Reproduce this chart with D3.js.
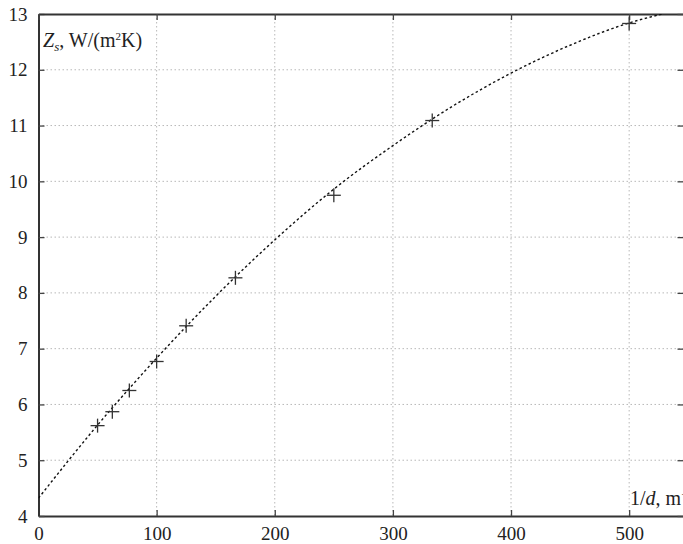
<!DOCTYPE html>
<html>
<head>
<meta charset="utf-8">
<script src="https://cdn.jsdelivr.net/npm/d3@7"></script>
<style>
  body { margin: 0; background: #fff; }
  text { font-family: "Liberation Serif", "DejaVu Serif", serif; fill: #222; }
</style>
</head>
<body>
<div id="chart"></div>
<script>
// measured points: 1/d (1/m) vs Zs (W/(m2K))
var invD = [50, 62.5, 76.9, 100, 125, 166.7, 250, 333.3, 500];
var zs = [5.62, 5.87, 6.25, 6.77, 7.41, 8.27, 9.75, 11.09, 12.83];

// fitted curve
var fitX = [0, 50, 100, 150, 200, 250, 300, 350, 400, 450, 500, 528];
var fitY = [4.32, 5.63, 6.83, 7.94, 8.95, 9.86, 10.64, 11.34, 11.94, 12.44, 12.84, 13.0];

var xTicks = [0, 100, 200, 300, 400, 500];
var yTicks = [4, 5, 6, 7, 8, 9, 10, 11, 12, 13];

var width = 683;
var height = 544;
var pLeft = 38.5, pTop = 14, pBottom = 516, pRight = 683.5;

var xScale = d3.scaleLinear().domain([0, 546]).range([pLeft, pRight]);
var yScale = d3.scaleLinear().domain([4, 13]).range([pBottom, pTop]);

var svg = d3.select("#chart").append("svg")
  .attr("width", width)
  .attr("height", height);

svg.append("defs").append("clipPath").attr("id", "plot")
  .append("rect")
  .attr("x", pLeft).attr("y", pTop)
  .attr("width", pRight - pLeft).attr("height", pBottom - pTop);

// dotted grid
var grid = svg.append("g").attr("class", "grid");

grid.selectAll("line.gx")
  .data(xTicks.filter(d => d > 0)).enter()
  .append("line")
  .attr("class", "gx")
  .attr("x1", d => xScale(d)).attr("x2", d => xScale(d))
  .attr("y1", pTop).attr("y2", pBottom);

grid.selectAll("line.gy")
  .data(yTicks.filter(d => d > 4 && d < 13)).enter()
  .append("line")
  .attr("class", "gy")
  .attr("x1", pLeft).attr("x2", pRight)
  .attr("y1", d => yScale(d)).attr("y2", d => yScale(d));

grid.selectAll("line")
  .style("stroke", "#b8b8b8")
  .style("stroke-width", 1)
  .style("stroke-dasharray", "1.5,2.5");

// axes
var xAxis = d3.axisBottom(xScale).tickValues(xTicks).tickSizeInner(-6).tickSizeOuter(0).tickPadding(11);
var yAxis = d3.axisLeft(yScale).tickValues(yTicks).tickSizeInner(-6).tickSizeOuter(0).tickPadding(11);
var xTop = d3.axisTop(xScale).tickValues(xTicks).tickSizeInner(-6).tickSizeOuter(0).tickFormat("");
var yRight = d3.axisRight(yScale).tickValues(yTicks).tickSizeInner(-6).tickSizeOuter(0).tickFormat("");

function styleAxis(g) {
  g.select(".domain").style("stroke", "#333").style("stroke-width", 2);
  g.selectAll(".tick line").style("stroke", "#444").style("stroke-width", 1.3);
  g.selectAll(".tick text")
    .style("font-family", "'Liberation Serif', serif")
    .style("font-size", "19px")
    .style("fill", "#222");
}

svg.append("g").attr("transform", `translate(0, ${pBottom})`).call(xAxis).call(styleAxis);
svg.append("g").attr("transform", `translate(${pLeft}, 0)`).call(yAxis).call(styleAxis);
svg.append("g").attr("transform", `translate(0, ${pTop})`).call(xTop).call(styleAxis);
svg.append("g").attr("transform", `translate(${pRight}, 0)`).call(yRight).call(styleAxis);

// fitted curve
var line = d3.line()
  .x((d, i) => xScale(fitX[i]))
  .y(d => yScale(d))
  .curve(d3.curveMonotoneX);

svg.append("path")
  .attr("clip-path", "url(#plot)")
  .attr("d", line(fitY))
  .style("fill", "none")
  .style("stroke", "#111")
  .style("stroke-width", 1.4)
  .style("stroke-dasharray", "2.5,2.5");

// + markers
var pts = svg.append("g").selectAll("g")
  .data(invD).enter()
  .append("g")
  .attr("transform", (d, i) => `translate(${xScale(d)}, ${yScale(zs[i])})`);

pts.append("line").attr("x1", -7).attr("x2", 7).attr("y1", 0).attr("y2", 0);
pts.append("line").attr("x1", 0).attr("x2", 0).attr("y1", -7).attr("y2", 7);
pts.selectAll("line").style("stroke", "#333").style("stroke-width", 1.3);

// axis titles
var yt = svg.append("text")
  .attr("x", 43).attr("y", 47)
  .style("font-size", "20px");
yt.append("tspan").style("font-style", "italic").text("Z");
yt.append("tspan").style("font-style", "italic").style("font-size", "13px").attr("dy", 4).text("s");
yt.append("tspan").attr("dy", -4).text(", W/(m");
yt.append("tspan").style("font-size", "11px").attr("dy", -7).text("2");
yt.append("tspan").attr("dy", 7).text("K)");

var xt = svg.append("text")
  .attr("x", 630).attr("y", 505)
  .style("font-size", "20px");
xt.append("tspan").text("1/");
xt.append("tspan").style("font-style", "italic").text("d");
xt.append("tspan").text(", m");
xt.append("tspan").style("font-size", "11px").attr("dy", -7).text("\u22121");
</script>
</body>
</html>
